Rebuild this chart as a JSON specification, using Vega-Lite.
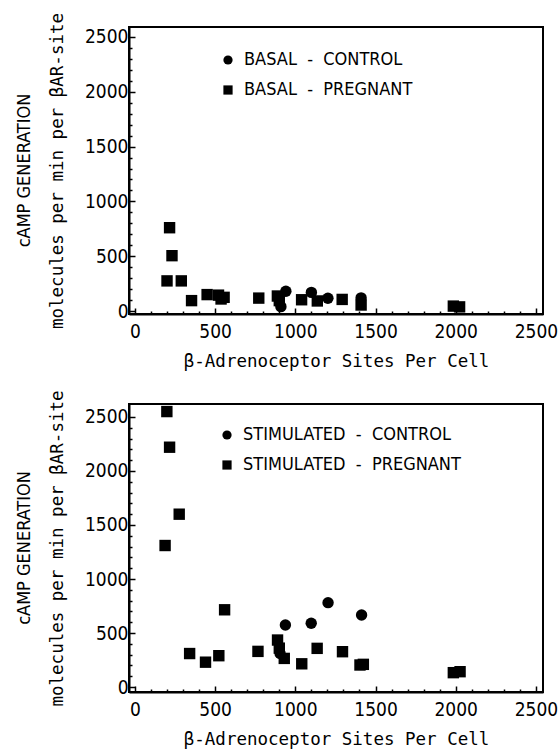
{
  "$schema": "https://vega.github.io/schema/vega-lite/v6.json",
  "background": "white",
  "padding": {"left": 14, "top": 11, "right": 5, "bottom": 5},
  "spacing": 17,
  "config": {
    "view": {"stroke": "black", "strokeWidth": 2},
    "axis": {
      "grid": false,
      "domainColor": "black",
      "domainWidth": 2,
      "ticks": true,
      "tickColor": "black",
      "tickWidth": 1.5,
      "tickOpacity": 1,
      "labelFont": "DejaVu Sans Condensed",
      "labelFontSize": 19,
      "labelColor": "black",
      "labelOverlap": false,
      "labelFlush": false,
      "titleFont": "DejaVu Sans Mono",
      "titleFontSize": 17.5,
      "titleFontWeight": "normal",
      "titleColor": "black"
    },
    "legend": {
      "labelFont": "DejaVu Sans Condensed",
      "labelFontSize": 18,
      "labelColor": "black",
      "labelLimit": 400,
      "symbolSize": 85,
      "symbolFillColor": "black",
      "symbolStrokeColor": "black",
      "rowPadding": 12,
      "labelOffset": 7,
      "title": null
    },
    "title": {"font": "DejaVu Sans Condensed", "fontSize": 18, "fontWeight": "normal", "color": "black"}
  },
  "resolve": {"scale": {"shape": "independent"}, "legend": {"shape": "independent"}},
  "vconcat": [
    {
      "width": 414,
      "height": 287,
      "title": {"text": "cAMP GENERATION", "orient": "left", "offset": 15},
      "data": {"values": [
        {"sites": 941, "camp": 180, "group": "BASAL\u00a0\u00a0-\u00a0\u00a0CONTROL"},
        {"sites": 910, "camp": 40, "group": "BASAL\u00a0\u00a0-\u00a0\u00a0CONTROL"},
        {"sites": 1100, "camp": 170, "group": "BASAL\u00a0\u00a0-\u00a0\u00a0CONTROL"},
        {"sites": 1203, "camp": 116, "group": "BASAL\u00a0\u00a0-\u00a0\u00a0CONTROL"},
        {"sites": 1410, "camp": 120, "group": "BASAL\u00a0\u00a0-\u00a0\u00a0CONTROL"},
        {"sites": 216, "camp": 760, "group": "BASAL\u00a0\u00a0-\u00a0\u00a0PREGNANT"},
        {"sites": 231, "camp": 505, "group": "BASAL\u00a0\u00a0-\u00a0\u00a0PREGNANT"},
        {"sites": 200, "camp": 275, "group": "BASAL\u00a0\u00a0-\u00a0\u00a0PREGNANT"},
        {"sites": 289, "camp": 275, "group": "BASAL\u00a0\u00a0-\u00a0\u00a0PREGNANT"},
        {"sites": 353, "camp": 95, "group": "BASAL\u00a0\u00a0-\u00a0\u00a0PREGNANT"},
        {"sites": 450, "camp": 150, "group": "BASAL\u00a0\u00a0-\u00a0\u00a0PREGNANT"},
        {"sites": 521, "camp": 145, "group": "BASAL\u00a0\u00a0-\u00a0\u00a0PREGNANT"},
        {"sites": 537, "camp": 110, "group": "BASAL\u00a0\u00a0-\u00a0\u00a0PREGNANT"},
        {"sites": 556, "camp": 125, "group": "BASAL\u00a0\u00a0-\u00a0\u00a0PREGNANT"},
        {"sites": 772, "camp": 118, "group": "BASAL\u00a0\u00a0-\u00a0\u00a0PREGNANT"},
        {"sites": 888, "camp": 137, "group": "BASAL\u00a0\u00a0-\u00a0\u00a0PREGNANT"},
        {"sites": 900, "camp": 95, "group": "BASAL\u00a0\u00a0-\u00a0\u00a0PREGNANT"},
        {"sites": 1039, "camp": 103, "group": "BASAL\u00a0\u00a0-\u00a0\u00a0PREGNANT"},
        {"sites": 1137, "camp": 92, "group": "BASAL\u00a0\u00a0-\u00a0\u00a0PREGNANT"},
        {"sites": 1292, "camp": 106, "group": "BASAL\u00a0\u00a0-\u00a0\u00a0PREGNANT"},
        {"sites": 1410, "camp": 55, "group": "BASAL\u00a0\u00a0-\u00a0\u00a0PREGNANT"},
        {"sites": 1985, "camp": 45, "group": "BASAL\u00a0\u00a0-\u00a0\u00a0PREGNANT"},
        {"sites": 2024, "camp": 38, "group": "BASAL\u00a0\u00a0-\u00a0\u00a0PREGNANT"}
      ]},
      "mark": {"type": "point", "filled": true, "opacity": 1, "color": "black", "size": 130},
      "encoding": {
        "x": {"field": "sites", "type": "quantitative",
          "scale": {"domain": [-37, 2544], "nice": false, "zero": false},
          "axis": {"title": "β-Adrenoceptor Sites Per Cell", "format": "d",
            "values": [0,100,200,300,400,500,600,700,800,900,1000,1100,1200,1300,1400,1500,1600,1700,1800,1900,2000,2100,2200,2300,2400,2500],
            "labelExpr": "datum.value % 500 === 0 ? datum.label : ''",
            "tickSize": {"condition": {"test": "datum.value % 500 === 0", "value": -6}, "value": -3},
            "labelPadding": 14, "titlePadding": 8}},
        "y": {"field": "camp", "type": "quantitative",
          "scale": {"domain": [-27, 2591], "nice": false, "zero": false},
          "axis": {"title": "molecules per min per βAR-site", "format": "d",
            "values": [0,100,200,300,400,500,600,700,800,900,1000,1100,1200,1300,1400,1500,1600,1700,1800,1900,2000,2100,2200,2300,2400,2500],
            "labelExpr": "datum.value % 500 === 0 ? datum.label : ''",
            "tickSize": {"condition": {"test": "datum.value % 500 === 0", "value": -6}, "value": -3},
            "labelPadding": 7, "titlePadding": 18}},
        "shape": {"field": "group", "type": "nominal",
          "scale": {"domain": ["BASAL\u00a0\u00a0-\u00a0\u00a0CONTROL", "BASAL\u00a0\u00a0-\u00a0\u00a0PREGNANT"], "range": ["circle", "square"]},
          "legend": {"orient": "none", "legendX": 90, "legendY": 24}}
      }
    },
    {
      "width": 414,
      "height": 288,
      "title": {"text": "cAMP GENERATION", "orient": "left", "offset": 15},
      "data": {"values": [
        {"sites": 938, "camp": 574, "group": "STIMULATED\u00a0\u00a0-\u00a0\u00a0CONTROL"},
        {"sites": 1099, "camp": 590, "group": "STIMULATED\u00a0\u00a0-\u00a0\u00a0CONTROL"},
        {"sites": 1204, "camp": 781, "group": "STIMULATED\u00a0\u00a0-\u00a0\u00a0CONTROL"},
        {"sites": 1413, "camp": 667, "group": "STIMULATED\u00a0\u00a0-\u00a0\u00a0CONTROL"},
        {"sites": 905, "camp": 310, "group": "STIMULATED\u00a0\u00a0-\u00a0\u00a0CONTROL"},
        {"sites": 199, "camp": 2550, "group": "STIMULATED\u00a0\u00a0-\u00a0\u00a0PREGNANT"},
        {"sites": 216, "camp": 2220, "group": "STIMULATED\u00a0\u00a0-\u00a0\u00a0PREGNANT"},
        {"sites": 276, "camp": 1600, "group": "STIMULATED\u00a0\u00a0-\u00a0\u00a0PREGNANT"},
        {"sites": 188, "camp": 1310, "group": "STIMULATED\u00a0\u00a0-\u00a0\u00a0PREGNANT"},
        {"sites": 559, "camp": 715, "group": "STIMULATED\u00a0\u00a0-\u00a0\u00a0PREGNANT"},
        {"sites": 341, "camp": 310, "group": "STIMULATED\u00a0\u00a0-\u00a0\u00a0PREGNANT"},
        {"sites": 440, "camp": 230, "group": "STIMULATED\u00a0\u00a0-\u00a0\u00a0PREGNANT"},
        {"sites": 523, "camp": 290, "group": "STIMULATED\u00a0\u00a0-\u00a0\u00a0PREGNANT"},
        {"sites": 767, "camp": 330, "group": "STIMULATED\u00a0\u00a0-\u00a0\u00a0PREGNANT"},
        {"sites": 889, "camp": 435, "group": "STIMULATED\u00a0\u00a0-\u00a0\u00a0PREGNANT"},
        {"sites": 900, "camp": 360, "group": "STIMULATED\u00a0\u00a0-\u00a0\u00a0PREGNANT"},
        {"sites": 931, "camp": 265, "group": "STIMULATED\u00a0\u00a0-\u00a0\u00a0PREGNANT"},
        {"sites": 1040, "camp": 215, "group": "STIMULATED\u00a0\u00a0-\u00a0\u00a0PREGNANT"},
        {"sites": 1136, "camp": 358, "group": "STIMULATED\u00a0\u00a0-\u00a0\u00a0PREGNANT"},
        {"sites": 1294, "camp": 327, "group": "STIMULATED\u00a0\u00a0-\u00a0\u00a0PREGNANT"},
        {"sites": 1403, "camp": 204, "group": "STIMULATED\u00a0\u00a0-\u00a0\u00a0PREGNANT"},
        {"sites": 1424, "camp": 210, "group": "STIMULATED\u00a0\u00a0-\u00a0\u00a0PREGNANT"},
        {"sites": 1985, "camp": 133, "group": "STIMULATED\u00a0\u00a0-\u00a0\u00a0PREGNANT"},
        {"sites": 2027, "camp": 142, "group": "STIMULATED\u00a0\u00a0-\u00a0\u00a0PREGNANT"}
      ]},
      "mark": {"type": "point", "filled": true, "opacity": 1, "color": "black", "size": 130},
      "encoding": {
        "x": {"field": "sites", "type": "quantitative",
          "scale": {"domain": [-37, 2544], "nice": false, "zero": false},
          "axis": {"title": "β-Adrenoceptor Sites Per Cell", "format": "d",
            "values": [0,100,200,300,400,500,600,700,800,900,1000,1100,1200,1300,1400,1500,1600,1700,1800,1900,2000,2100,2200,2300,2400,2500],
            "labelExpr": "datum.value % 500 === 0 ? datum.label : ''",
            "tickSize": {"condition": {"test": "datum.value % 500 === 0", "value": -6}, "value": -3},
            "labelPadding": 14, "titlePadding": 8}},
        "y": {"field": "camp", "type": "quantitative",
          "scale": {"domain": [-46, 2620], "nice": false, "zero": false},
          "axis": {"title": "molecules per min per βAR-site", "format": "d",
            "values": [0,100,200,300,400,500,600,700,800,900,1000,1100,1200,1300,1400,1500,1600,1700,1800,1900,2000,2100,2200,2300,2400,2500],
            "labelExpr": "datum.value % 500 === 0 ? datum.label : ''",
            "tickSize": {"condition": {"test": "datum.value % 500 === 0", "value": -6}, "value": -3},
            "labelPadding": 7, "titlePadding": 18}},
        "shape": {"field": "group", "type": "nominal",
          "scale": {"domain": ["STIMULATED\u00a0\u00a0-\u00a0\u00a0CONTROL", "STIMULATED\u00a0\u00a0-\u00a0\u00a0PREGNANT"], "range": ["circle", "square"]},
          "legend": {"orient": "none", "legendX": 89, "legendY": 22}}
      }
    }
  ]
}
